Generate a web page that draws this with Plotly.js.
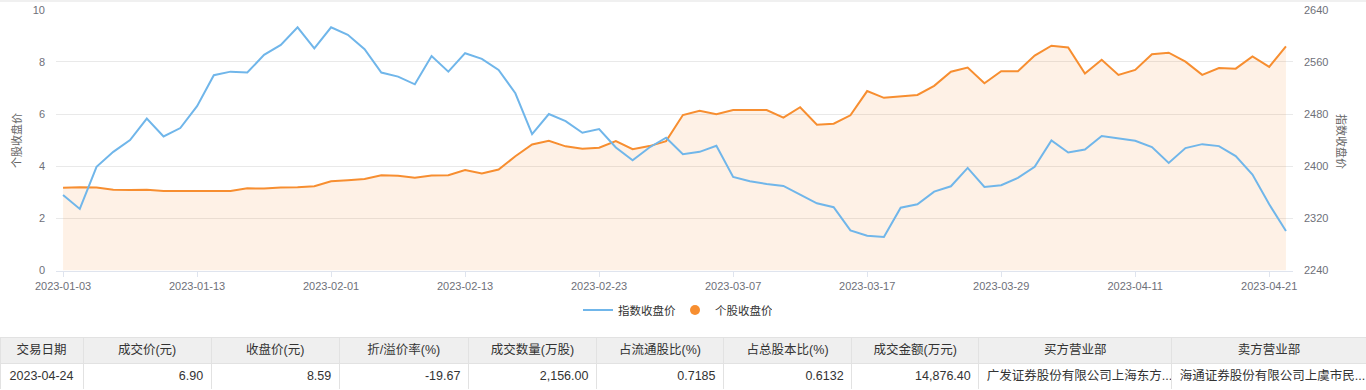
<!DOCTYPE html>
<html>
<head>
<meta charset="utf-8">
<script src="https://cdn.plot.ly/plotly-3.0.1.min.js"></script>
<style>
  html, body { margin: 0; padding: 0; background: #ffffff; }
  #chart { width: 1366px; height: 390px; }
</style>
</head>
<body>
<div id="chart"></div>
<script>
// ---- data ----
const dates = [
  '2023-01-03','2023-01-04','2023-01-05','2023-01-06','2023-01-09','2023-01-10','2023-01-11','2023-01-12','2023-01-13',
  '2023-01-16','2023-01-17','2023-01-18','2023-01-19','2023-01-20','2023-01-30','2023-01-31',
  '2023-02-01','2023-02-02','2023-02-03','2023-02-06','2023-02-07','2023-02-08','2023-02-09','2023-02-10','2023-02-13',
  '2023-02-14','2023-02-15','2023-02-16','2023-02-17','2023-02-20','2023-02-21','2023-02-22','2023-02-23','2023-02-24',
  '2023-02-27','2023-02-28','2023-03-01','2023-03-02','2023-03-03','2023-03-06','2023-03-07','2023-03-08','2023-03-09',
  '2023-03-10','2023-03-13','2023-03-14','2023-03-15','2023-03-16','2023-03-17','2023-03-20','2023-03-21','2023-03-22',
  '2023-03-23','2023-03-24','2023-03-27','2023-03-28','2023-03-29','2023-03-30','2023-03-31','2023-04-03','2023-04-04',
  '2023-04-06','2023-04-07','2023-04-10','2023-04-11','2023-04-12','2023-04-13','2023-04-14','2023-04-17','2023-04-18',
  '2023-04-19','2023-04-20','2023-04-21','2023-04-24'
];

// 个股收盘价 (left axis)
const stockClose = [
  3.17,3.19,3.18,3.10,3.09,3.10,3.05,3.05,3.06,3.06,3.05,3.15,3.14,3.18,3.19,3.23,3.42,3.46,3.51,3.65,3.63,3.56,3.64,3.65,
  3.85,3.72,3.87,4.38,4.83,4.97,4.76,4.67,4.71,4.96,4.65,4.77,4.96,5.96,6.12,5.99,6.15,6.15,6.15,5.86,6.26,5.59,5.63,5.95,6.88,6.62,6.67,
  6.73,7.08,7.62,7.78,7.18,7.64,7.64,8.24,8.62,8.55,7.55,8.08,7.50,7.69,8.29,8.35,8.01,7.50,7.76,7.74,8.21,7.81,8.59
];

// 指数收盘价 (right axis)
const indexClose = [
  2355.9,2334.4,2399.0,2422.0,2440.0,2473.0,2445.6,2458.5,2492.0,2539.5,2545.0,2543.6,2570.8,2586.0,2613.0,2580.5,2613.0,2601.5,2579.5,2543.6,2537.4,2525.6,2569.0,2545.0,
  2573.3,2564.6,2547.7,2511.8,2449.2,2480.0,2469.2,2451.3,2457.0,2428.7,2409.2,2428.7,2443.6,2418.5,2422.0,2431.3,2383.6,2377.0,2372.8,2369.7,2356.4,2343.0,2337.0,2301.5,2293.3,2291.3,2336.4,
  2341.5,2361.0,2369.2,2397.4,2368.2,2370.8,2382.0,2399.0,2439.5,2421.0,2425.6,2446.2,2442.6,2439.0,2429.2,2405.0,2427.7,2433.8,2430.8,2415.4,2387.2,2341.5,2300.5
];

const xTickLabels = ['2023-01-03','2023-01-13','2023-02-01','2023-02-13','2023-02-23','2023-03-07','2023-03-17','2023-03-29','2023-04-11','2023-04-21'];
const leftTicks = [0, 2, 4, 6, 8, 10];
const rightTicks = [2240, 2320, 2400, 2480, 2560, 2640];

const seriesNames = ['指数收盘价', '个股收盘价'];
const axisTitles = ['个股收盘价', '指数收盘价'];

const tableHeaders = ['交易日期','成交价(元)','收盘价(元)','折/溢价率(%)','成交数量(万股)','占流通股比(%)','占总股本比(%)','成交金额(万元)','买方营业部','卖方营业部'];
const tableRow = ['2023-04-24','6.90','8.59','-19.67','2,156.00','0.7185','0.6132','14,876.40','广发证券股份有限公司上海东方...','海通证券股份有限公司上虞市民...'];

// ---- styling ----
const BLUE = 'rgb(112,182,234)';
const ORANGE = 'rgb(247,142,48)';
const FONT = 'Liberation Sans, Noto Sans CJK SC, sans-serif';
const TICKC = '#6e7079';
const W = 1366, H = 390;
const plotL = 56, plotR = 1293, plotT = 9.7, plotB = 270.5;

const traces = [
  {
    type: 'scatter', mode: 'lines', name: seriesNames[1],
    x: dates, y: stockClose, xaxis: 'x', yaxis: 'y',
    line: { color: ORANGE, width: 2 },
    fill: 'tozeroy', fillcolor: 'rgba(247,142,48,0.12)',
    showlegend: false, hoverinfo: 'x+y'
  },
  {
    type: 'scatter', mode: 'lines', name: seriesNames[0],
    x: dates, y: indexClose, xaxis: 'x', yaxis: 'y2',
    line: { color: BLUE, width: 2 },
    showlegend: true, legendrank: 1, hoverinfo: 'x+y'
  },
  {
    type: 'scatter', mode: 'markers', name: seriesNames[1],
    x: [dates[0]], y: [null], xaxis: 'x', yaxis: 'y',
    marker: { color: ORANGE, size: 10, symbol: 'circle' },
    showlegend: true, legendrank: 2, hoverinfo: 'skip'
  },
  {
    type: 'table',
    domain: { x: [0, 1], y: [0, 1 - 337 / H] },
    columnwidth: [83,128,128,129,128,127,128,127,193,194],
    header: {
      values: tableHeaders,
      align: 'center',
      height: 26,
      fill: { color: '#efefef' },
      line: { color: '#e2e2e2', width: 1 },
      font: { family: FONT, size: 12.5, color: '#333333' }
    },
    cells: {
      values: tableRow.map(v => [v]),
      align: ['center','right','right','right','right','right','right','right','left','left'],
      height: 27,
      fill: { color: '#ffffff' },
      line: { color: '#e2e2e2', width: 1 },
      font: { family: FONT, size: 12.5, color: '#333333' }
    }
  }
];

const layout = {
  width: W, height: H,
  margin: { l: 0, r: 0, t: 0, b: 0, pad: 0 },
  paper_bgcolor: '#ffffff',
  plot_bgcolor: 'rgba(0,0,0,0)',
  font: { family: FONT, size: 11, color: TICKC },
  showlegend: true,
  hovermode: 'x',
  xaxis: {
    type: 'category',
    domain: [plotL / W, plotR / W],
    range: [-0.42, dates.length - 1 + 0.42],
    tickmode: 'array',
    tickvals: xTickLabels,
    ticktext: xTickLabels,
    ticks: 'outside', ticklen: 5, tickcolor: '#dfe4ee', tickwidth: 1,
    showline: true, linecolor: '#dfe4ee', linewidth: 1,
    showgrid: false, zeroline: false,
    tickfont: { family: FONT, size: 11, color: TICKC },
    fixedrange: true
  },
  yaxis: {
    domain: [1 - plotB / H, 1 - plotT / H],
    range: [0, 10],
    tickmode: 'array', tickvals: leftTicks,
    showgrid: true, gridcolor: '#e9e9e9', gridwidth: 1,
    zeroline: false, showline: false, ticks: '',
    ticklabelstandoff: 10,
    tickfont: { family: FONT, size: 11, color: TICKC },
    fixedrange: true
  },
  yaxis2: {
    overlaying: 'y', side: 'right', anchor: 'x',
    range: [2240, 2640],
    tickmode: 'array', tickvals: rightTicks,
    showgrid: false, zeroline: false, showline: false, ticks: '',
    ticklabelstandoff: 10,
    tickfont: { family: FONT, size: 11, color: TICKC },
    fixedrange: true
  },
  legend: {
    orientation: 'h',
    x: 675 / W, xanchor: 'center',
    y: 1 - 310 / H, yanchor: 'middle',
    font: { family: FONT, size: 11.5, color: '#333333' },
    bgcolor: 'rgba(0,0,0,0)',
    itemwidth: 30,
    entrywidth: 52,
    entrywidthmode: 'pixels',
    traceorder: 'normal'
  },
  annotations: [
    {
      text: axisTitles[0], xref: 'paper', yref: 'paper',
      x: 16 / W, y: 1 - 141 / H, xanchor: 'center', yanchor: 'middle',
      textangle: -90, showarrow: false,
      font: { family: FONT, size: 11, color: '#666666' }
    },
    {
      text: axisTitles[1], xref: 'paper', yref: 'paper',
      x: 1342 / W, y: 1 - 141 / H, xanchor: 'center', yanchor: 'middle',
      textangle: 90, showarrow: false,
      font: { family: FONT, size: 11, color: '#666666' }
    }
  ],
  shapes: [
    {
      type: 'rect', xref: 'paper', yref: 'paper',
      x0: 0, x1: 1, y0: 1 - 2 / H, y1: 1,
      fillcolor: '#f0f0f0', line: { width: 0 }, layer: 'below'
    }
  ]
};

Plotly.newPlot('chart', traces, layout, { displayModeBar: false, staticPlot: false, responsive: false });
</script>
</body>
</html>
